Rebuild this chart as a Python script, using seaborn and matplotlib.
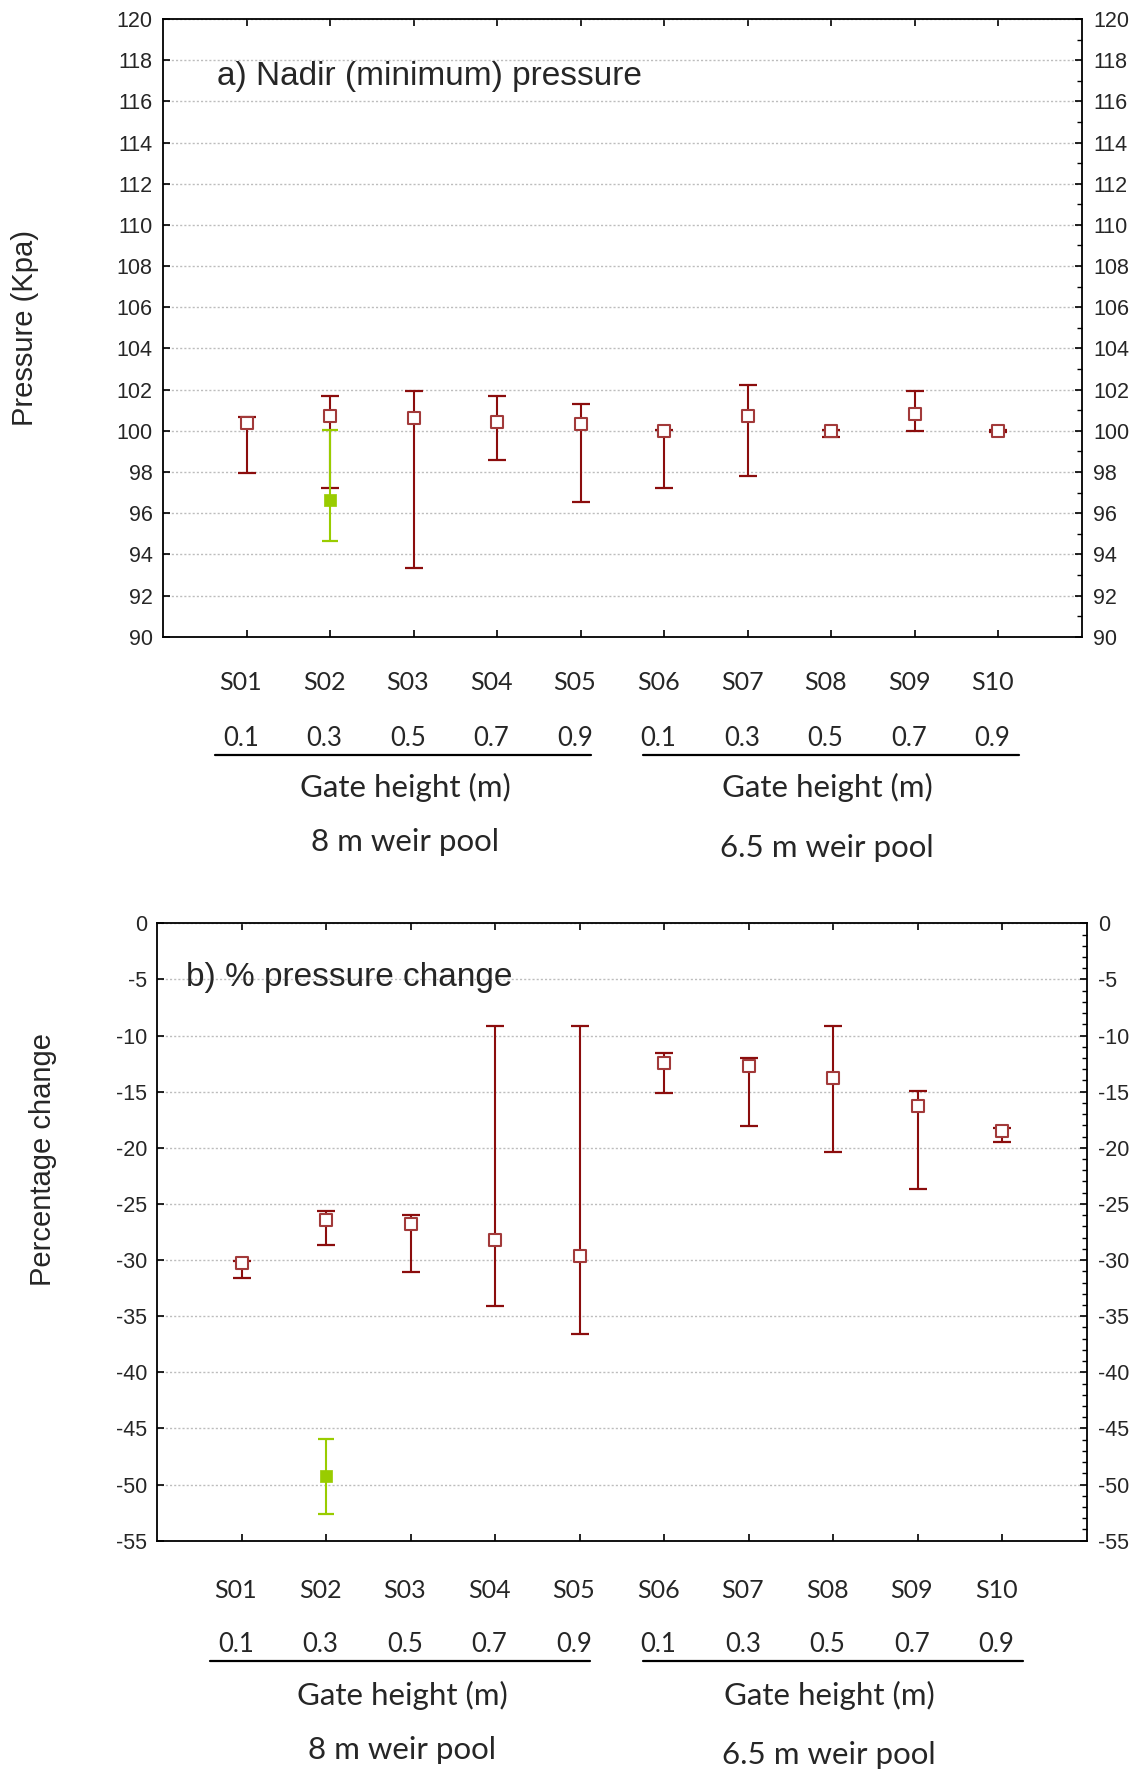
import numpy as np
import pandas as pd
import matplotlib
matplotlib.use("Agg")
import matplotlib.pyplot as plt
import matplotlib.transforms as mtransforms
from matplotlib.lines import Line2D
from matplotlib.ticker import MultipleLocator
import seaborn as sns

# ---- data -------------------------------------------------------------
scenarios = ["S01", "S02", "S03", "S04", "S05", "S06", "S07", "S08", "S09", "S10"]
gate_heights = ["0.1", "0.3", "0.5", "0.7", "0.9", "0.1", "0.3", "0.5", "0.7", "0.9"]

# a) nadir (minimum) pressure, kPa
nadir_mean = [100.37, 100.73, 100.62, 100.44, 100.31, 100.00, 100.73, 100.00, 100.81, 100.00]
nadir_upper = [100.68, 101.71, 101.94, 101.71, 101.30, 100.02, 102.24, 100.02, 101.94, 100.05]
nadir_lower = [97.95, 97.24, 93.32, 98.59, 96.54, 97.20, 97.79, 99.71, 100.00, 99.95]

# highlighted case at S02
nadir_hl_mean = [96.65]
nadir_hl_upper = [100.05]
nadir_hl_lower = [94.63]

# b) percentage pressure change
change_mean = [-30.22, -26.43, -26.76, -28.20, -29.66, -12.46, -12.70, -13.79, -16.26, -18.51]
change_upper = [-30.12, -25.63, -26.00, -9.17, -9.17, -11.57, -11.96, -9.17, -14.95, -18.25]
change_lower = [-31.56, -28.68, -31.05, -34.08, -36.57, -15.16, -18.07, -20.41, -23.70, -19.44]

change_hl_mean = [-49.20]
change_hl_upper = [-45.92]
change_hl_lower = [-52.62]
hl_scenario = ["S02"]

pool_labels = ["8 m weir pool", "6.5 m weir pool"]

# ---- style --------------------------------------------------------------
sns.set_style("white")
plt.rcParams["font.family"] = ["Liberation Sans", "DejaVu Sans"]
plt.rcParams["axes.linewidth"] = 1.3
plt.rcParams["axes.unicode_minus"] = False

W, H = 1140, 1771
fig = plt.figure(figsize=(W / 100, H / 100), dpi=100)

RED = "#8B0D0D"
RED_EDGE = "#A23A3A"
GREEN = "#99CC00"
LABEL_FONT = ["Lato", "DejaVu Sans"]


def fy(px):
    return 1 - px / H


def add_panel(rect, mean, upper, lower, hl_mean, hl_upper, hl_lower,
              ylim, major, title, title_xy, ylabel, ylabel_xy, text_rows):
    ax = fig.add_axes(rect)
    pos = {s: i + 1 for i, s in enumerate(scenarios)}
    df = pd.DataFrame({"scenario": scenarios, "mean": mean,
                       "upper": upper, "lower": lower})
    df["x"] = df["scenario"].map(pos)
    hl = pd.DataFrame({"scenario": hl_scenario, "mean": hl_mean,
                       "upper": hl_upper, "lower": hl_lower})
    hl["x"] = hl["scenario"].map(pos)

    # range bars
    ax.errorbar(df["x"], df["mean"],
                yerr=[df["mean"] - df["lower"], df["upper"] - df["mean"]],
                fmt="none", ecolor=RED, elinewidth=1.5, capsize=6.5,
                capthick=1.6, zorder=3)
    ax.errorbar(hl["x"], hl["mean"],
                yerr=[hl["mean"] - hl["lower"], hl["upper"] - hl["mean"]],
                fmt="none", ecolor=GREEN, elinewidth=1.5, capsize=6.0,
                capthick=1.6, zorder=4)
    # markers
    sns.scatterplot(data=df, x="x", y="mean", marker="s", s=78,
                    facecolor="white", edgecolor=RED_EDGE, linewidth=1.5,
                    ax=ax, zorder=5, legend=False)
    sns.scatterplot(data=hl, x="x", y="mean", marker="s", s=80,
                    color=GREEN, edgecolor=GREEN, linewidth=0.5,
                    ax=ax, zorder=6, legend=False)

    ax.set_xlim(0, 11)
    ax.set_ylim(*ylim)
    ax.set_xlabel("")
    ax.set_ylabel("")
    ax.yaxis.set_major_locator(MultipleLocator(major))
    ax.set_xticks(range(1, 11))
    ax.grid(True, axis="y", linestyle=(0, (1.5, 1.5)), color="#BDBDBD",
            linewidth=1.0, zorder=0)
    ax.grid(False, axis="x")
    ax.tick_params(axis="x", direction="in", top=True, bottom=True,
                   labelbottom=False, length=5, width=1.2, color="black")
    ax.tick_params(axis="y", direction="in", left=True, right=False,
                   length=5, width=1.2, labelsize=15.5, pad=7.5,
                   color="black")
    for sp in ax.spines.values():
        sp.set_color("black")

    # right-hand axis with minor ticks
    ax2 = ax.twinx()
    ax2.set_ylim(*ylim)
    ax2.yaxis.set_major_locator(MultipleLocator(major))
    ax2.yaxis.set_minor_locator(MultipleLocator(1))
    ax2.tick_params(axis="y", which="major", direction="in", length=5,
                    width=1.2, labelsize=15.5, pad=8, color="black")
    ax2.tick_params(axis="y", which="minor", direction="in", length=3.5,
                    width=1.0, color="black")
    ax2.grid(False)
    for sp in ax2.spines.values():
        sp.set_visible(False)

    ax.text(title_xy[0], title_xy[1], title, transform=fig.transFigure,
            fontsize=24, ha="left", va="center")
    fig.text(ylabel_xy[0], ylabel_xy[1], ylabel, rotation=90,
             fontsize=21, ha="center", va="center")

    # category labels beneath the axes
    tr = mtransforms.blended_transform_factory(ax.transData, fig.transFigure)
    ys, yg, yl, yh, yp1, yp2 = text_rows
    for i, (s, g) in enumerate(zip(scenarios, gate_heights)):
        ax.text(i + 1 - 0.07, fy(ys), s, transform=tr, ha="center",
                va="center", fontsize=18, family=LABEL_FONT)
        ax.text(i + 1 - 0.07, fy(yg), g, transform=tr, ha="center",
                va="center", fontsize=18.5, family=LABEL_FONT)
    for x0, x1 in [(0.62, 5.12), (5.75, 10.25)]:
        fig.add_artist(Line2D([x0, x1], [fy(yl), fy(yl)], transform=tr,
                              color="black", linewidth=1.6))
    for xc, yp, lab in [(2.9, yp1, pool_labels[0]), (7.95, yp2, pool_labels[1])]:
        ax.text(xc, fy(yh), "Gate height (m)", transform=tr, ha="center",
                va="center", fontsize=22.5, family=LABEL_FONT)
        ax.text(xc, fy(yp), lab, transform=tr, ha="center", va="center",
                fontsize=22.5, family=LABEL_FONT)
    return ax


add_panel([163 / W, fy(636.7), (1082 - 163) / W, (636.7 - 19) / H],
          nadir_mean, nadir_upper, nadir_lower,
          nadir_hl_mean, nadir_hl_upper, nadir_hl_lower,
          (90, 120), 2, "a) Nadir (minimum) pressure", (217 / W, fy(77)),
          "Pressure (Kpa)", (25 / W, fy(328)),
          (683, 739, 755, 787, 842, 848))

add_panel([157.3 / W, fy(1540.7), (1086.7 - 157.3) / W, (1540.7 - 923.3) / H],
          change_mean, change_upper, change_lower,
          change_hl_mean, change_hl_upper, change_hl_lower,
          (-55, 0), 5, "b) % pressure change", (186 / W, fy(978)),
          "Percentage change", (43 / W, fy(1159)),
          (1590, 1645, 1661, 1695, 1750, 1755))

fig.savefig("out.png", dpi=100, facecolor="white")
